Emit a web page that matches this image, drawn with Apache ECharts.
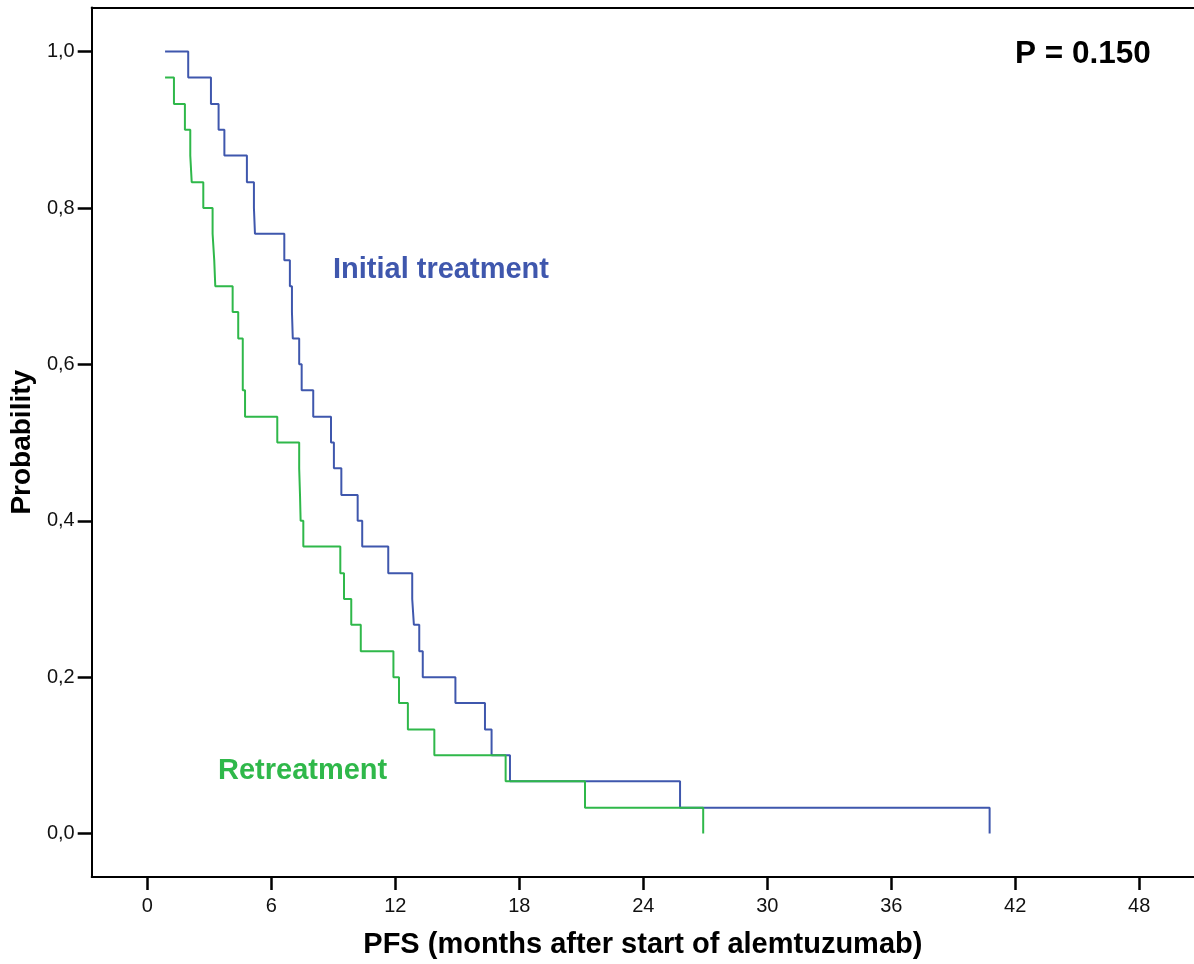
<!DOCTYPE html>
<html><head><meta charset="utf-8">
<script src="https://cdn.jsdelivr.net/npm/echarts@6/dist/echarts.min.js"></script>
<style>html,body{margin:0;padding:0;background:#fff}#c{width:1194px;height:964px}</style>
</head><body><div id="c"></div>
<script>
const xTicks = [0, 6, 12, 18, 24, 30, 36, 42, 48];
const yTicks = [0, 0.2, 0.4, 0.6, 0.8, 1.0];

const initialTimes = [0.86, 1.98, 3.08, 3.45, 3.73, 4.82, 5.16, 5.21, 6.63, 6.90, 7.00, 7.04, 7.35, 7.47, 8.03, 8.89, 9.03, 9.39, 10.18, 10.40, 11.66, 12.82, 12.90, 13.16, 13.33, 14.91, 16.34, 16.66, 17.55, 25.78, 40.76];
const initialSurv = [1.0, 0.967, 0.933, 0.9, 0.867, 0.833, 0.8, 0.767, 0.733, 0.7, 0.667, 0.633, 0.6, 0.567, 0.533, 0.5, 0.467, 0.433, 0.4, 0.367, 0.333, 0.3, 0.267, 0.233, 0.2, 0.167, 0.133, 0.1, 0.067, 0.033, 0];

const retreatTimes = [0.86, 1.29, 1.82, 2.08, 2.15, 2.71, 3.16, 3.24, 3.29, 4.13, 4.40, 4.62, 4.73, 6.29, 7.35, 7.39, 7.42, 7.55, 9.34, 9.52, 9.87, 10.33, 11.91, 12.18, 12.61, 13.89, 17.34, 21.18, 26.90];
const retreatSurv = [0.967, 0.933, 0.9, 0.867, 0.833, 0.8, 0.767, 0.733, 0.7, 0.667, 0.633, 0.567, 0.533, 0.5, 0.467, 0.433, 0.4, 0.367, 0.333, 0.3, 0.267, 0.233, 0.2, 0.167, 0.133, 0.1, 0.067, 0.033, 0];

const seriesNames = ['Initial treatment', 'Retreatment'];
const pText = 'P = 0.150';

const FONT = '"Liberation Sans", Arial, sans-serif';
const BLUE = '#3f57ad';
const GREEN = '#2fb84a';
const X_MIN = -2.69, X_MAX = 50.65, Y_MIN = -0.0556, Y_MAX = 1.0564;

const zip = (t, s) => t.map((v, i) => [v, s[i]]);

const chart = echarts.init(document.getElementById('c'), null, {renderer: 'canvas'});
chart.setOption({
  animation: false,
  backgroundColor: '#fff',
  textStyle: {fontFamily: FONT},
  grid: {left: 91.7, top: 7.5, right: 0, bottom: 84.7},
  xAxis: [{
    type: 'value', position: 'bottom', min: X_MIN, max: X_MAX,
    axisLine: {show: true, onZero: false, lineStyle: {color: '#000', width: 2}},
    axisTick: {show: true, customValues: xTicks, length: 13, lineStyle: {color: '#000', width: 2.5}},
    axisLabel: {show: true, customValues: xTicks, margin: 19, fontSize: 20, color: '#111', fontFamily: FONT},
    splitLine: {show: false},
    name: 'PFS (months after start of alemtuzumab)', nameLocation: 'middle', nameGap: 53,
    nameTextStyle: {fontSize: 29, fontWeight: 'bold', color: '#000', fontFamily: FONT}
  }, {
    type: 'value', position: 'top', min: X_MIN, max: X_MAX,
    axisLine: {show: true, onZero: false, lineStyle: {color: '#000', width: 2}},
    axisTick: {show: false}, axisLabel: {show: false}, splitLine: {show: false}
  }],
  yAxis: {
    type: 'value', min: Y_MIN, max: Y_MAX,
    axisLine: {show: true, onZero: false, lineStyle: {color: '#000', width: 2}},
    axisTick: {show: true, customValues: yTicks, length: 14, lineStyle: {color: '#000', width: 2.5}},
    axisLabel: {show: true, customValues: yTicks, margin: 17, fontSize: 20, color: '#111', fontFamily: FONT,
      formatter: v => v.toFixed(1).replace('.', ',')},
    splitLine: {show: false},
    name: 'Probability', nameLocation: 'middle', nameGap: 45,
    nameTextStyle: {fontSize: 28, fontWeight: 'bold', color: '#000', fontFamily: FONT}
  },
  series: [{
    name: seriesNames[0], type: 'line', step: 'end', xAxisIndex: 0,
    data: zip(initialTimes, initialSurv), showSymbol: false, symbol: 'none',
    lineStyle: {color: BLUE, width: 2}, z: 2
  }, {
    name: seriesNames[1], type: 'line', step: 'end', xAxisIndex: 0,
    data: zip(retreatTimes, retreatSurv), showSymbol: false, symbol: 'none',
    lineStyle: {color: GREEN, width: 2}, z: 3
  }],
  graphic: [
    {type: 'text', left: 333, top: 255, style: {text: seriesNames[0], fill: BLUE, font: 'bold 29px ' + FONT}},
    {type: 'text', left: 218, top: 756, style: {text: seriesNames[1], fill: GREEN, font: 'bold 29px ' + FONT}},
    {type: 'text', left: 1015, top: 38, style: {text: pText, fill: '#000', font: 'bold 31.5px ' + FONT}}
  ]
});
</script>
</body></html>
